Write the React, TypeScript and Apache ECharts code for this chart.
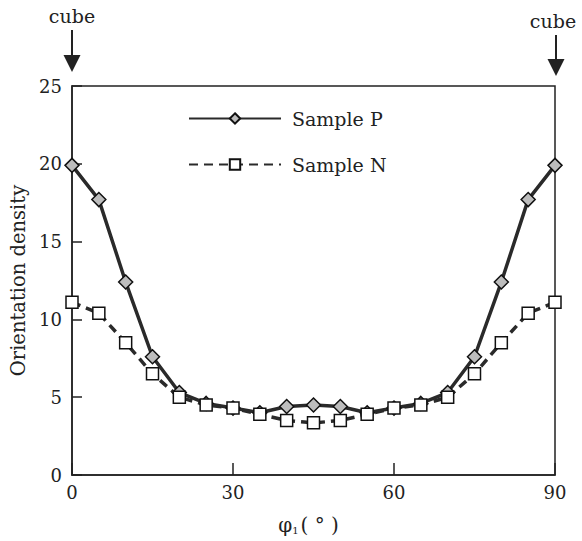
import React, { useEffect, useRef } from "react";
import * as echarts from "echarts";

const phi1 = [0, 5, 10, 15, 20, 25, 30, 35, 40, 45, 50, 55, 60, 65, 70, 75, 80, 85, 90];
const sampleP = [19.9, 17.7, 12.4, 7.6, 5.3, 4.6, 4.3, 4.0, 4.4, 4.5, 4.4, 4.0, 4.3, 4.6, 5.3, 7.6, 12.4, 17.7, 19.9];
const sampleN = [11.1, 10.4, 8.5, 6.5, 5.0, 4.5, 4.3, 3.9, 3.5, 3.35, 3.5, 3.9, 4.3, 4.5, 5.0, 6.5, 8.5, 10.4, 11.1];
const seriesNames = ["Sample P", "Sample N"];

const FONT = "DejaVu Serif";
const INK = "#222222";

export default function App() {
  const ref = useRef<HTMLDivElement>(null);
  useEffect(() => {
    if (!ref.current) return;
    document.body.style.margin = "0";
    const chart = echarts.init(ref.current, null, { renderer: "svg" });
    const arrow = (cx: number, y0: number, y1: number, tx: number, ty: number) => [
      { type: "text", x: tx, y: ty, style: { text: "cube", fontFamily: FONT, fontSize: 19, fill: INK, align: "center", verticalAlign: "middle" } },
      { type: "line", shape: { x1: cx, y1: y0, x2: cx, y2: y1 - 14 }, style: { stroke: INK, lineWidth: 2 } },
      { type: "polygon", shape: { points: [[cx - 8.5, y1 - 17], [cx + 8.5, y1 - 17], [cx, y1]] }, style: { fill: INK } },
    ];
    chart.setOption({
      animation: false,
      backgroundColor: "#ffffff",
      textStyle: { fontFamily: FONT },
      grid: { left: 72, right: 27, top: 86, bottom: 66, show: true, borderColor: INK, borderWidth: 1.5 },
      legend: {
        data: seriesNames,
        orient: "vertical",
        left: 188,
        top: 109,
        padding: 0,
        itemWidth: 92,
        itemHeight: 13,
        itemGap: 27,
        textStyle: { fontFamily: FONT, fontSize: 19, color: INK, padding: [0, 0, 0, 6] },
      },
      xAxis: {
        type: "value",
        min: 0,
        max: 90,
        interval: 30,
        name: "{a|φ}{s|1}{a|( ° )}{p|}",
        nameLocation: "middle",
        nameGap: 40,
        nameTextStyle: {
          rich: {
            a: { fontFamily: FONT, fontSize: 20, color: INK },
            s: { fontFamily: FONT, fontSize: 10, color: INK, verticalAlign: "bottom", padding: [6, 2, 0, 0] },
            p: { width: 10 },
          },
        },
        axisLine: { lineStyle: { color: INK, width: 1.5 } },
        axisTick: { inside: true, length: 12, lineStyle: { color: INK, width: 1.5 } },
        axisLabel: { fontFamily: FONT, fontSize: 18, color: INK, margin: 8 },
        splitLine: { show: false },
      },
      yAxis: {
        type: "value",
        min: 0,
        max: 25,
        interval: 5,
        name: "Orientation density",
        nameLocation: "middle",
        nameGap: 37,
        nameTextStyle: { fontFamily: FONT, fontSize: 19.5, color: INK },
        axisLine: { lineStyle: { color: INK, width: 1.5 } },
        axisTick: { inside: true, length: 10, lineStyle: { color: INK, width: 1.5 } },
        axisLabel: { fontFamily: FONT, fontSize: 18, color: INK, margin: 10 },
        splitLine: { show: false },
      },
      series: [
        {
          name: seriesNames[0],
          type: "line",
          data: phi1.map((x, i) => [x, sampleP[i]]),
          symbol: "diamond",
          symbolSize: 14,
          lineStyle: { color: "#2a2a2a", width: 3.5, type: "solid" },
          itemStyle: { color: "#bdbdbd", borderColor: "#111111", borderWidth: 1.5 },
          z: 2,
        },
        {
          name: seriesNames[1],
          type: "line",
          data: phi1.map((x, i) => [x, sampleN[i]]),
          symbol: "rect",
          symbolSize: 12,
          lineStyle: { color: "#2a2a2a", width: 3.5, type: [9, 6] },
          itemStyle: { color: "#ffffff", borderColor: "#111111", borderWidth: 1.5 },
          z: 3,
        },
      ],
      graphic: [...arrow(72, 30, 72, 72, 16), ...arrow(556, 35, 76, 553, 21)],
    });
    return () => chart.dispose();
  }, []);
  return <div ref={ref} style={{ width: 582, height: 541 }} />;
}
